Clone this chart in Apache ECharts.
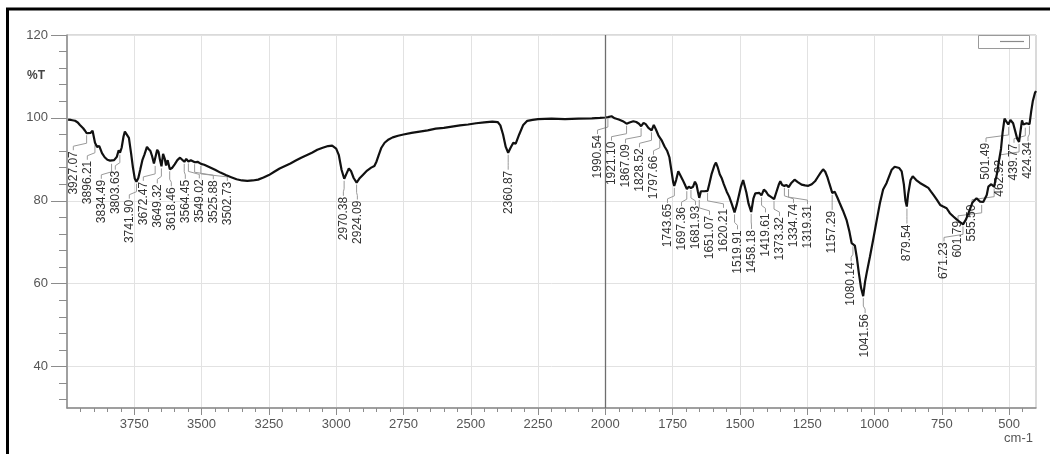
<!DOCTYPE html>
<html><head><meta charset="utf-8">
<script src="https://cdn.jsdelivr.net/npm/echarts@6/dist/echarts.min.js"></script>
<style>html,body{margin:0;padding:0;background:#fff;}#c{width:1050px;height:454px;}</style>
</head><body><div id="c"></div>
<script>
// ---- data (wavenumber cm-1, %T) ----
const wavenumbers = [3996,3985,3970,3960,3952,3940,3933,3927,3920,3912,3905,3896,3888,3880,3870,3860,3850,3840,3834,3825,3815,3808,3803,3797,3790,3785,3778,3770,3762,3755,3748,3742,3735,3728,3720,3712,3703,3697,3690,3684,3677,3672,3665,3660,3655,3649,3643,3637,3632,3626,3618,3610,3600,3590,3580,3572,3564,3557,3549,3540,3533,3525,3515,3502,3490,3470,3450,3430,3410,3390,3370,3350,3330,3310,3290,3270,3250,3230,3210,3190,3170,3150,3130,3110,3090,3070,3050,3030,3015,3000,2990,2980,2970,2962,2953,2945,2935,2924,2912,2900,2885,2870,2858,2850,2842,2832,2820,2805,2790,2770,2750,2720,2690,2660,2630,2600,2570,2540,2510,2480,2450,2420,2400,2390,2380,2370,2361,2352,2342,2333,2320,2305,2290,2270,2250,2200,2150,2100,2050,2020,2000,1990,1985,1977,1965,1950,1935,1921,1910,1896,1885,1875,1867,1858,1850,1840,1835,1828,1820,1812,1803,1797,1790,1780,1770,1762,1755,1748,1744,1737,1729,1720,1713,1705,1697,1690,1682,1674,1667,1661,1656,1651,1645,1639,1632,1627,1620,1614,1605,1595,1589,1583,1575,1568,1560,1549,1540,1530,1520,1512,1503,1496,1488,1483,1476,1468,1458,1450,1443,1436,1428,1420,1411,1403,1395,1386,1373,1365,1355,1350,1343,1335,1327,1319,1310,1297,1285,1271,1258,1246,1233,1221,1210,1200,1191,1183,1175,1167,1157,1148,1138,1129,1117,1104,1093,1085,1080,1073,1065,1058,1050,1042,1035,1029,1017,1005,992,980,968,955,945,936,925,918,908,899,891,885,880,875,866,858,845,831,815,800,790,781,768,756,745,732,720,707,695,685,671,660,648,636,621,608,602,596,583,577,566,556,545,538,530,524,517,510,503,501,495,485,476,470,463,455,452,447,440,435,428,424,418,412,404,400];
const transmittance = [99.6,99.5,99.3,98.9,98.3,97.5,96.9,96.3,96.7,96.4,96.9,94.0,93.0,93.2,91.5,90.5,89.9,89.7,89.4,89.8,90.6,92.2,91.6,92.8,95.5,96.7,96.3,95.2,91.5,88.0,85.3,84.6,85.5,87.5,89.8,91.2,93.0,92.5,92.0,90.8,89.0,88.9,92.3,91.8,90.0,88.3,91.3,90.2,88.5,89.8,87.6,87.9,88.8,89.8,90.4,89.9,89.4,90.1,89.5,89.8,89.5,89.3,89.4,88.9,88.7,88.1,87.5,86.8,86.2,85.7,85.2,84.9,84.8,84.9,85.1,85.6,86.2,87.0,87.8,88.4,89.0,89.7,90.4,91.0,91.6,92.3,92.8,93.2,93.3,92.6,91.0,87.5,85.3,86.5,87.8,87.2,85.5,84.4,85.5,86.3,87.3,88.0,88.4,89.5,91.0,92.8,94.0,94.8,95.3,95.7,96.0,96.4,96.7,97.0,97.4,97.6,97.9,98.2,98.4,98.7,98.9,99.1,99.0,98.2,96.0,93.0,91.6,92.8,94.0,93.8,96.0,98.3,99.3,99.5,99.7,99.8,99.7,99.8,99.9,100.0,100.1,100.2,100.6,100.4,99.9,99.6,99.2,98.6,98.9,99.2,99.0,98.6,98.0,98.8,98.5,97.6,97.3,97.0,98.3,97.2,95.8,95.2,94.5,93.1,92.0,90.5,87.5,84.5,83.6,85.0,87.1,86.0,85.1,84.0,82.8,83.4,83.1,83.4,84.6,83.8,82.2,80.7,82.3,82.7,82.3,82.0,82.4,84.0,86.5,88.5,89.2,88.2,86.4,85.5,84.0,82.2,81.0,79.2,77.2,79.0,81.5,83.5,85.0,84.8,82.0,79.3,77.3,80.5,81.8,82.2,81.9,81.3,82.7,82.2,81.4,81.0,80.4,82.0,84.0,84.7,83.8,83.6,83.8,83.3,84.2,85.1,84.5,83.9,83.7,83.6,84.0,84.7,85.8,86.8,87.6,87.0,85.7,84.0,81.9,82.2,80.8,79.4,77.6,75.4,72.5,69.8,69.5,69.2,66.0,62.5,59.0,57.0,60.5,62.6,66.5,70.6,75.2,79.4,82.7,84.3,86.0,87.5,88.2,88.3,87.9,87.1,84.0,80.0,78.6,81.6,85.0,85.9,85.0,84.3,83.7,83.1,82.2,81.4,80.2,79.0,78.6,78.2,77.0,76.2,75.5,75.0,74.3,75.5,77.5,79.6,80.6,79.8,79.5,79.7,81.4,83.4,84.0,83.4,86.5,89.5,92.5,96.5,99.8,99.4,98.4,98.3,99.5,98.7,96.5,95.0,94.2,98.0,99.4,98.4,98.1,98.7,98.7,98.5,101.5,104.0,106.0,106.5];
const peakWavenumbers = [3927.07,3896.21,3834.49,3803.63,3741.90,3672.47,3649.32,3618.46,3564.45,3549.02,3525.88,3502.73,2970.38,2924.09,2360.87,1990.54,1921.10,1867.09,1828.52,1797.66,1743.65,1697.36,1681.93,1651.07,1620.21,1519.91,1458.18,1419.61,1373.32,1334.74,1319.31,1157.29,1080.14,1041.56,879.54,671.23,601.79,555.50,501.49,462.92,439.77,424.34];
const peakTransmittance = [96.3,94.0,89.4,91.6,84.6,88.9,88.3,87.6,89.4,89.5,89.3,88.9,85.3,84.4,91.6,100.2,98.6,98.0,97.0,95.2,83.6,82.8,83.1,80.7,82.4,77.2,77.3,81.3,80.4,83.6,83.3,81.9,69.5,57.0,78.6,74.3,79.5,83.4,98.3,94.2,98.1,98.5];
const xTickLabels = [3750,3500,3250,3000,2750,2500,2250,2000,1750,1500,1250,1000,750,500];
const yTickLabels = [40,60,80,100,120];
const markedWavenumber = 2000;

// ---- layout ----
const X_MIN = 400, X_MAX = 4000, Y_MIN = 30, Y_MAX = 120;
const xMinor = []; for (let v = 450; v < X_MAX; v += 50) xMinor.push(v);
const yMinor = []; for (let v = 32; v <= Y_MAX; v += 4) yMinor.push(v);
const FONT = '"Liberation Sans", Arial, sans-serif';
const plain = v => String(v);

const LABEL_SPACING = 14, LABEL_GAP = 18;
function layoutLabels(api) {
  const pts = peakWavenumbers.map((w, i) => api.coord([w, peakTransmittance[i]]));
  const idx = pts.map((p, i) => i).sort((a, b) => pts[a][0] - pts[b][0]);
  const leftLimit = api.coord([X_MAX, Y_MIN])[0] + 6;
  const rightLimit = api.coord([X_MIN, Y_MIN])[0] - 8;
  const S = LABEL_SPACING;
  function place(b) {
    const n = b.items.length;
    let start = b.sum / n - (n - 1) * S / 2;
    start = Math.min(start, rightLimit - (n - 1) * S);
    start = Math.max(start, leftLimit);
    return { start, end: start + (n - 1) * S };
  }
  const blocks = [];
  idx.forEach(i => {
    blocks.push({ items: [i], sum: pts[i][0] });
    while (blocks.length > 1) {
      const cur = blocks[blocks.length - 1], prev = blocks[blocks.length - 2];
      if (place(prev).end + S > place(cur).start) {
        prev.items = prev.items.concat(cur.items);
        prev.sum += cur.sum;
        blocks.pop();
      } else break;
    }
  });
  const xs = [];
  blocks.forEach(b => { const p = place(b); b.items.forEach((i, k) => { xs[i] = p.start + k * S; }); });
  return { xs, pts };
}

const chart = echarts.init(document.getElementById('c'), null, { renderer: 'canvas' });
const axisCommon = { type: 'value', min: X_MIN, max: X_MAX, inverse: true, position: 'bottom' };
chart.setOption({
  animation: false,
  backgroundColor: '#fff',
  grid: { left: 67, top: 35, width: 969, height: 373, show: true, borderColor: '#b5b5b5', borderWidth: 1, containLabel: false },
  xAxis: [
    Object.assign({}, axisCommon, {
      axisLine: { show: true, lineStyle: { color: '#8c8c8c', width: 1.5 } },
      axisTick: { show: true, customValues: xTickLabels, length: 7, lineStyle: { color: '#8c8c8c' } },
      axisLabel: { show: true, customValues: xTickLabels, formatter: plain, margin: 10, color: '#555', fontSize: 13, fontFamily: FONT },
      splitLine: { show: true, lineStyle: { color: '#e2e2e2', width: 1 } }
    }),
    Object.assign({}, axisCommon, {
      axisLine: { show: false },
      axisTick: { show: true, customValues: xMinor, length: 4, lineStyle: { color: '#8c8c8c' } },
      axisLabel: { show: false },
      splitLine: { show: false }
    })
  ],
  yAxis: [
    {
      type: 'value', min: Y_MIN, max: Y_MAX, position: 'left',
      axisLine: { show: true, lineStyle: { color: '#8c8c8c', width: 1.5 } },
      axisTick: { show: true, customValues: yTickLabels, length: 16, lineStyle: { color: '#8c8c8c' } },
      axisLabel: { show: true, customValues: yTickLabels, formatter: plain, margin: 19, color: '#555', fontSize: 13, fontFamily: FONT },
      splitLine: { show: true, lineStyle: { color: '#e2e2e2', width: 1 } }
    },
    {
      type: 'value', min: Y_MIN, max: Y_MAX, position: 'left',
      axisLine: { show: false },
      axisTick: { show: true, customValues: yMinor, length: 8, lineStyle: { color: '#8c8c8c' } },
      axisLabel: { show: false },
      splitLine: { show: false }
    }
  ],
  graphic: [
    { type: 'rect', shape: { x: 7.5, y: 9, width: 1100, height: 500 }, style: { fill: null, stroke: '#000', lineWidth: 3 }, silent: true },
    { type: 'text', x: 36, y: 76, style: { text: '%T', align: 'center', verticalAlign: 'middle', fill: '#444', font: 'bold 12px ' + FONT } },
    { type: 'text', x: 1033, y: 438, style: { text: 'cm-1', align: 'right', verticalAlign: 'middle', fill: '#555', font: '13px ' + FONT } },
    { type: 'rect', shape: { x: 978.5, y: 35.5, width: 51, height: 13 }, style: { fill: '#fff', stroke: '#9a9a9a', lineWidth: 1 }, z: 10 },
    { type: 'line', shape: { x1: 1000, y1: 41.5, x2: 1024, y2: 41.5 }, style: { stroke: '#8a8a8a', lineWidth: 1.2 }, z: 11 }
  ],
  series: [
    {
      type: 'line', xAxisIndex: 0, yAxisIndex: 0,
      data: wavenumbers.map((w, i) => [w, transmittance[i]]),
      showSymbol: false, symbol: 'none',
      lineStyle: { color: '#111', width: 2.2 },
      z: 4,
      markLine: {
        silent: true, symbol: 'none', label: { show: false },
        lineStyle: { color: '#6e6e6e', width: 1.3, type: 'solid' },
        data: [{ xAxis: markedWavenumber }]
      }
    },
    {
      type: 'custom', xAxisIndex: 0, yAxisIndex: 0, clip: false, z: 3,
      data: peakWavenumbers.map((w, i) => [w, peakTransmittance[i]]),
      renderItem: function (params, api) {
        const L = layoutLabels(api);
        const i = params.dataIndex;
        const px = L.pts[i][0], py = L.pts[i][1];
        const lx = L.xs[i], top = py + LABEL_GAP;
        return {
          type: 'group',
          children: [
            { type: 'polyline', shape: { points: [[px, py + 2], [px, top - 8], [lx, top - 5], [lx, top - 1]] }, style: { stroke: '#9a9a9a', lineWidth: 1, fill: null } },
            { type: 'text', x: lx, y: top, rotation: Math.PI / 2,
              style: { text: peakWavenumbers[i].toFixed(2), x: 0, y: 0, align: 'right', verticalAlign: 'middle', fill: '#333', font: '12px ' + FONT } }
          ]
        };
      }
    }
  ]
});
</script>
</body></html>
